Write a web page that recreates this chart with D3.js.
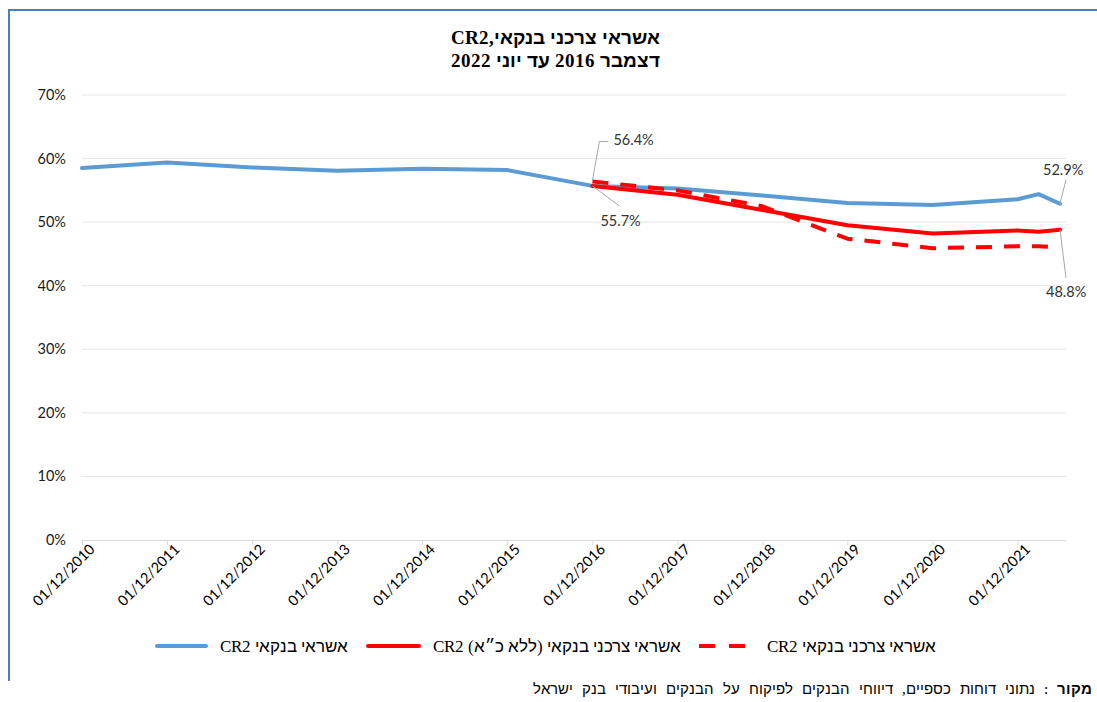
<!DOCTYPE html>
<html>
<head>
<meta charset="utf-8">
<script src="https://cdn.jsdelivr.net/npm/d3@7"></script>
<style>
  body { margin: 0; background: #fff; }
  svg { display: block; }
  @font-face { font-family: "HebMix"; src: local("Liberation Sans"); unicode-range: U+0590-05FF, U+FB1D-FB4F; }
  @font-face { font-family: "HebMix"; src: local("Liberation Serif"); unicode-range: U+0000-058F, U+0600-FB1C; }
  @font-face { font-family: "HebMix"; font-weight: bold; src: local("Liberation Sans Bold"), local("LiberationSans-Bold"); unicode-range: U+0590-05FF, U+FB1D-FB4F; }
  @font-face { font-family: "HebMix"; font-weight: bold; src: local("Liberation Serif Bold"), local("LiberationSerif-Bold"); unicode-range: U+0000-058F, U+0600-FB1C; }
</style>
</head>
<body>
<script>
// data
var blueDates = ["2010-12-01", "2011-12-01", "2012-12-01", "2013-12-01", "2014-12-01", "2015-12-01",
  "2016-12-01", "2017-12-01", "2018-12-01", "2019-12-01", "2020-12-01", "2021-12-01", "2022-03-01", "2022-06-01"];
var blueValues = [58.5, 59.4, 58.6, 58.1, 58.4, 58.2, 55.7, 55.3, 54.2, 53.0, 52.7, 53.6, 54.4, 52.9];
var redDates = ["2016-12-01", "2017-12-01", "2018-12-01", "2019-12-01", "2020-12-01", "2021-12-01", "2022-03-01", "2022-06-01"];
var redSolidValues = [55.7, 54.3, 51.9, 49.5, 48.2, 48.7, 48.5, 48.8];
var redDashValues = [56.4, 55.0, 52.5, 47.4, 45.9, 46.2, 46.2, 46.0];
var xTickLabels = ["01/12/2010", "01/12/2011", "01/12/2012", "01/12/2013", "01/12/2014", "01/12/2015",
  "01/12/2016", "01/12/2017", "01/12/2018", "01/12/2019", "01/12/2020", "01/12/2021"];
var yTicks = [0, 10, 20, 30, 40, 50, 60, 70];
var seriesNames = ["אשראי בנקאי CR2", "אשראי צרכני בנקאי (ללא כ״א) CR2", "אשראי צרכני בנקאי CR2"];
var titleLines = ["אשראי צרכני בנקאי,CR2", "דצמבר 2016  עד יוני 2022"];

var W = 1097, H = 702;
var blue = "#5b9bd5", red = "#ff0000";
var parse = d3.timeParse("%Y-%m-%d");
var mixFont = "HebMix, 'Liberation Sans', sans-serif";

var svg = d3.select("body").append("svg")
    .attr("width", W)
    .attr("height", H);

// frame
svg.append("path")
    .attr("d", "M9,681 L9,10 L1097,10")
    .attr("fill", "none")
    .attr("stroke", "#4a7ebb")
    .attr("stroke-width", 2);

var x = d3.scaleTime()
    .domain([parse("2010-12-01"), parse("2022-06-01")])
    .range([82, 1060]);
var y = d3.scaleLinear().domain([0, 70]).range([540, 95]);

// grid
svg.append("g")
    .selectAll("line")
    .data(yTicks.slice(1))
    .join("line")
    .attr("x1", 82).attr("x2", 1066)
    .attr("y1", function (d) { return y(d); })
    .attr("y2", function (d) { return y(d); })
    .attr("stroke", "#e6e6e6")
    .attr("stroke-width", 1);

// y axis labels
svg.append("g")
    .selectAll("text")
    .data(yTicks)
    .join("text")
    .attr("x", 66)
    .attr("y", function (d) { return y(d) + 5; })
    .attr("text-anchor", "end")
    .style("font-family", "Lato, 'Open Sans', sans-serif")
    .style("font-size", "14.5px")
    .attr("fill", "#1a1a1a")
    .text(function (d) { return d + "%"; });

// x axis
var tickDates = xTickLabels.map(function (s) {
    var p = s.split("/");
    return new Date(+p[2], +p[1] - 1, +p[0]);
});
var xAxis = svg.append("g")
    .attr("transform", "translate(0," + y(0) + ")")
    .call(d3.axisBottom(x).tickValues(tickDates).tickSize(5).tickSizeOuter(0)
        .tickFormat(function (d, i) { return xTickLabels[i]; }));
xAxis.select(".domain").attr("stroke", "#d9d9d9").attr("d", "M82,0.5H1066");
xAxis.selectAll(".tick line").attr("stroke", "#d9d9d9");
xAxis.selectAll(".tick text")
    .attr("text-anchor", "end")
    .attr("transform", "translate(6,3) rotate(-45)")
    .attr("dy", "0.7em")
    .attr("y", 0)
    .style("font-family", "Lato, 'Open Sans', sans-serif")
    .style("font-size", "14.5px")
    .attr("fill", "#000");

// lines
var line = d3.line()
    .x(function (d) { return x(d[0]); })
    .y(function (d) { return y(d[1]); });

function pairs(dates, vals) {
    return dates.map(function (d, i) { return [parse(d), vals[i]]; });
}
var bluePts = pairs(blueDates, blueValues);
var solidPts = pairs(redDates, redSolidValues);
var dashPts = pairs(redDates, redDashValues);

svg.append("path").datum(bluePts)
    .attr("d", line).attr("fill", "none")
    .attr("stroke", blue).attr("stroke-width", 4)
    .attr("stroke-linejoin", "round").attr("stroke-linecap", "round");
svg.append("path").datum(solidPts)
    .attr("d", line).attr("fill", "none")
    .attr("stroke", red).attr("stroke-width", 4)
    .attr("stroke-linejoin", "round").attr("stroke-linecap", "round");
svg.append("path").datum(dashPts)
    .attr("d", line).attr("fill", "none")
    .attr("stroke", red).attr("stroke-width", 4)
    .attr("stroke-dasharray", "16,12")
    .attr("stroke-linejoin", "round");

// data labels with leader lines
var lblFont = "Lato, 'Open Sans', sans-serif";
function dataLabel(pt, txt, lx, ly, path) {
    var px = x(pt[0]), py = y(pt[1]);
    svg.append("path")
        .attr("d", path(px, py))
        .attr("fill", "none")
        .attr("stroke", "#a6a6a6")
        .attr("stroke-width", 1);
    svg.append("text")
        .attr("x", px + lx).attr("y", py + ly)
        .style("font-family", lblFont)
        .style("font-size", "14.5px")
        .attr("fill", "#333")
        .text(txt);
}
dataLabel(dashPts[0], "56.4%", 21, -36, function (px, py) {
    return "M" + px + "," + (py - 1) + " L" + (px + 7) + "," + (py - 40) + " L" + (px + 16) + "," + (py - 40);
});
dataLabel(solidPts[0], "55.7%", 8, 40, function (px, py) {
    return "M" + px + "," + py + " L" + (px + 27) + "," + (py + 20);
});
dataLabel(bluePts[bluePts.length - 1], "52.9%", -17, -29, function (px, py) {
    return "M" + px + "," + py + " L" + (px + 6) + "," + (py - 24);
});
dataLabel(solidPts[solidPts.length - 1], "48.8%", -14, 67, function (px, py) {
    return "M" + px + "," + py + " L" + (px + 6) + "," + (py + 48);
});

// title
svg.append("g")
    .selectAll("text")
    .data(titleLines)
    .join("text")
    .attr("x", 555)
    .attr("y", function (d, i) { return 44 + i * 23; })
    .attr("text-anchor", "middle")
    .attr("direction", "rtl")
    .style("font-family", mixFont)
    .style("font-weight", "bold")
    .style("font-size", "19px")
    .attr("fill", "#000")
    .text(function (d) { return d; });

// legend
var legend = [
    { name: seriesNames[0], color: blue, dash: null, x1: 157, x2: 206, tx: 348 },
    { name: seriesNames[1], color: red, dash: null, x1: 368, x2: 419, tx: 681 },
    { name: seriesNames[2], color: red, dash: "16,14", x1: 699, x2: 748, tx: 936 }
];
var lg = svg.append("g").selectAll("g").data(legend).join("g");
lg.append("line")
    .attr("x1", function (d) { return d.x1; })
    .attr("x2", function (d) { return d.x2; })
    .attr("y1", 646).attr("y2", 646)
    .attr("stroke", function (d) { return d.color; })
    .attr("stroke-width", 4)
    .attr("stroke-linecap", function (d) { return d.dash ? "butt" : "round"; })
    .attr("stroke-dasharray", function (d) { return d.dash; });
lg.append("text")
    .attr("x", function (d) { return d.tx; })
    .attr("y", 652)
    .attr("direction", "rtl")
    .attr("text-anchor", "start")
    .style("font-family", mixFont)
    .style("font-size", "17.3px")
    .attr("fill", "#000")
    .text(function (d) { return d.name; });

// source note
var src = svg.append("text")
    .attr("x", 1092)
    .attr("y", 694)
    .attr("direction", "rtl")
    .attr("text-anchor", "start")
    .style("font-family", mixFont)
    .style("font-size", "15px")
    .style("word-spacing", "5px")
    .attr("fill", "#000");
src.append("tspan").style("font-weight", "bold").text("מקור");
src.append("tspan").text(" : נתוני דוחות כספיים, דיווחי הבנקים לפיקוח על הבנקים ועיבודי בנק ישראל");
</script>
</body>
</html>
